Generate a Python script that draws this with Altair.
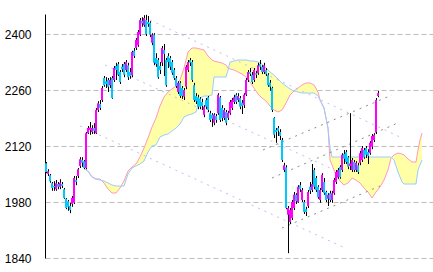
import altair as alt
import pandas as pd

# ---- candle data (one per session) ----
opens = [2077,2050,2047,2027,2020,2012,2025,2018,2025,2012,1988,1982,1970,1975,1978,2035,2045,2070,2085,2082,
         2065,2152,2160,2155,2165,2152,2210,2225,2235,2290,2282,2285,2272,2290,2285,2320,2325,2305,2318,2325,
         2310,2322,2305,2297,2358,2365,2372,2398,2433,2422,2435,2430,2428,2378,2398,2340,2335,2320,2328,2360,
         2335,2345,2340,2330,2310,2290,2255,2278,2265,2243,2268,2310,2335,2330,2272,2245,2242,2238,2230,2198,
         2235,2242,2202,2198,2178,2195,2202,2242,2215,2190,2205,2190,2202,2215,2230,2248,2235,2240,2228,2222,
         2248,2285,2305,2298,2285,2302,2302,2325,2318,2305,2310,2298,2278,2265,2190,2160,2165,2155,2135,2060,
         2067,1948,1930,1940,1965,1998,1980,2022,1985,1980,1962,1970,2018,2010,2060,2040,2018,1985,2010,2030,
         2005,1988,2002,1985,2002,2030,2042,2068,2060,2100,2105,2092,2070,2060,2080,2060,2072,2078,2085,2110,
         2115,2105,2102,2118,2135,2155,2245]
closes = [2055,2057,2032,2015,2017,2027,2018,2028,2020,1990,1965,1968,1960,1990,2040,2030,2062,2087,2078,2065,
          2152,2165,2166,2165,2158,2210,2227,2215,2265,2272,2275,2268,2285,2240,2315,2310,2298,2280,2312,2298,
          2330,2292,2295,2355,2345,2385,2405,2435,2426,2440,2400,2425,2398,2398,2328,2325,2292,2310,2365,2350,
          2272,2330,2318,2303,2290,2270,2278,2245,2245,2260,2318,2330,2328,2285,2235,2232,2218,2218,2220,2218,
          2218,2210,2185,2188,2198,2185,2248,2185,2190,2210,2178,2203,2230,2235,2242,2230,2245,2218,2220,2248,
          2285,2305,2300,2280,2310,2298,2322,2318,2305,2322,2300,2272,2268,2210,2148,2155,2158,2145,2085,2072,
          1965,1965,1960,1980,1998,1982,2018,2012,2010,1955,1955,2005,2008,2025,2018,2010,1992,2010,2048,2002,
          1985,1998,1985,2002,2035,2055,2060,2042,2098,2088,2080,2068,2076,2085,2060,2078,2055,2102,2115,2092,
          2098,2095,2128,2145,2148,2235,2252]
highs = [2080,2062,2050,2030,2032,2035,2030,2037,2030,2015,1990,1985,1978,1995,2045,2045,2065,2092,2092,2085,
         2155,2170,2180,2172,2177,2215,2232,2235,2270,2295,2292,2290,2292,2295,2320,2328,2330,2310,2325,2330,
         2335,2328,2315,2358,2365,2390,2410,2440,2442,2447,2448,2445,2432,2402,2402,2352,2340,2330,2370,2375,
         2340,2352,2345,2335,2315,2295,2282,2282,2270,2265,2322,2335,2340,2335,2278,2252,2248,2242,2238,2222,
         2240,2245,2208,2202,2202,2200,2252,2245,2222,2215,2210,2208,2235,2240,2248,2252,2252,2245,2235,2252,
         2290,2310,2315,2305,2315,2308,2328,2335,2322,2328,2315,2302,2285,2268,2192,2165,2170,2162,2140,2078,
         2072,1970,1965,1985,2005,2002,2022,2030,2015,1985,1968,2010,2030,2075,2065,2045,2022,2015,2052,2040,
         2008,2002,2008,2008,2040,2060,2065,2072,2102,2110,2110,2095,2202,2090,2085,2082,2078,2108,2120,2115,
         2120,2112,2132,2150,2152,2240,2258]
lows = [2052,2045,2028,2008,2008,2008,2012,2012,2015,1988,1962,1958,1952,1968,1975,2022,2040,2065,2068,2062,
        2062,2150,2148,2150,2150,2150,2205,2210,2230,2268,2265,2255,2265,2238,2280,2285,2295,2275,2305,2292,
        2305,2285,2288,2292,2340,2360,2368,2395,2418,2418,2395,2418,2392,2372,2322,2318,2288,2300,2320,2295,
        2268,2315,2310,2298,2285,2265,2250,2240,2238,2235,2262,2305,2320,2280,2230,2225,2212,2212,2210,2192,
        2212,2205,2180,2168,2172,2178,2198,2180,2182,2185,2172,2185,2198,2210,2225,2225,2230,2212,2200,2215,
        2245,2280,2295,2275,2280,2290,2298,2310,2300,2300,2295,2268,2258,2205,2140,2128,2145,2135,2080,2055,
        1962,1852,1925,1935,1960,1975,1978,2005,1980,1950,1945,1965,2000,2005,2012,2005,1988,1978,2005,1998,
        1980,1970,1980,1978,1998,2025,2038,2038,2055,2075,2075,2062,2060,2055,2055,2055,2050,2072,2080,2088,
        2090,2075,2098,2112,2130,2150,2242]

# ---- ichimoku cloud (leading spans, session index incl. future) ----
cloud_idx = [19.5,21,23,25,27,29,31,33,35,37,39,41,43,45,47,49,51,53,55,57,59,61,63,65,67,69,71,73,75,77,
             79,81,83,84,86,88,90,91,92,94,96,98,100,102,104,106,108,110,112,114,116,118,120,122,124,126,128,130,132,134,
             136,137,138,139,140,141,142,143,145,147,149,151,153,155,157,159,161,163,165,167,169,171,172.5,174,176,178,179,181,183,185,
             186,187,188]
span_a = [2062.5,2057.5,2042.5,2037.5,2037.5,2027.5,2012.5,2002.5,2002.5,2015,
          2032.5,2057.5,2067.5,2075,2092.5,2115,2140,2167.5,2190,2220,
          2242.5,2255,2262.5,2270,2285,2315,2355,2365,2365,2362.5,
          2360,2345,2335,2332.5,2330,2327.5,2322.5,2315,2312.5,2310,
          2305,2300,2292.5,2280,2265,2250,2240,2232.5,2220,2210,
          2205,2210,2227.5,2247.5,2257.5,2265,2272.5,2277.5,2277.5,2272.5,
          2255,2235,2225,2215,2190,2165,2085,2072.5,2047.5,2032.5,
          2022.5,2027.5,2040,2035,2027.5,2015,2005,1990,2005,2017.5,
          2035,2060,2090,2097.5,2102.5,2100,2097.5,2087.5,2080,2080,
          2110,2135,2152.5]
span_b = [2062.5,2057.5,2042.5,2037.5,2035,2032.5,2027.5,2022.5,2020,2020,
          2020,2050,2065,2070,2075,2082.5,2105,2120,2122.5,2142.5,
          2147.5,2150,2157.5,2165,2175,2192.5,2197.5,2200,2205,2240,
          2245,2245,2247.5,2292.5,2292.5,2292.5,2292.5,2310,2330,2332.5,
          2335,2335,2335,2332.5,2332.5,2330,2325,2315,2305,2297.5,
          2287.5,2277.5,2270,2262.5,2257.5,2255,2252.5,2252.5,2252.5,2252.5,
          2245,2235,2225,2215,2190,2165,2115,2092.5,2092.5,2092.5,
          2092.5,2092.5,2092.5,2092.5,2092.5,2092.5,2092.5,2092.5,2092.5,2092.5,
          2092.5,2092.5,2092.5,2085,2055,2030,2025,2025,2025,2025,
          2060,2072.5,2085]

# ---- trend channel lines (endpoints in session index / price) ----
trend_id = ["L1","L1","L2","L2","L3","L3","G1","G1","G2","G2","G3","G3"]
trend_kind = ["lav","lav","lav","lav","lav","lav","gray","gray","gray","gray","gray","gray"]
trend_idx = [52,177,29.5,142,17,149.5,108.5,173,113,177,118,167]
trend_price = [2435,2142.5,2322.5,2065,2170,1865,2110,2247.5,2040,2180,1915,2020]

y_ticks = [1840, 1980, 2120, 2260, 2400]

candles = pd.DataFrame({"idx": list(range(len(opens))), "open": opens, "close": closes,
                        "high": highs, "low": lows})
cloud = pd.DataFrame({"idx": cloud_idx, "a": span_a, "b": span_b})
trends = pd.DataFrame({"id": trend_id, "kind": trend_kind, "idx": trend_idx, "price": trend_price})

xs = alt.Scale(domain=[-0.5, 193.5], nice=False, zero=False)
ys = alt.Scale(domain=[1840, 2450], nice=False, zero=False)
yaxis = alt.Axis(values=y_ticks, format="d", grid=True, gridDash=[5, 3], gridColor="#bbbbbb", gridWidth=1,
                 domainColor="#000000", domainWidth=1, ticks=False, labelPadding=14,
                 labelFontSize=12, labelFont="Liberation Sans", labelColor="#000000", title=None)

area = alt.Chart(cloud).mark_area(color="#ffffa6", opacity=1).encode(
    x=alt.X("idx:Q", scale=xs, axis=None),
    y=alt.Y("a:Q", scale=ys, axis=yaxis),
    y2="b:Q")
line_a = alt.Chart(cloud).mark_line(color="#ff99bb", strokeWidth=1).encode(
    x=alt.X("idx:Q", scale=xs, axis=None), y=alt.Y("a:Q", scale=ys))
line_b = alt.Chart(cloud).mark_line(color="#99ccff", strokeWidth=1).encode(
    x=alt.X("idx:Q", scale=xs, axis=None), y=alt.Y("b:Q", scale=ys))

tl = alt.Chart(trends).mark_line(strokeWidth=1, strokeDash=[2, 5]).encode(
    x=alt.X("idx:Q", scale=xs, axis=None),
    y=alt.Y("price:Q", scale=ys),
    detail="id:N",
    color=alt.Color("kind:N", scale=alt.Scale(domain=["lav", "gray"], range=["#c4bcf0", "#8c8c8c"]), legend=None))

wick = alt.Chart(candles).mark_rule(color="#000000", strokeWidth=1, xOffset=0.5).encode(
    x=alt.X("idx:Q", scale=xs, axis=None), y=alt.Y("low:Q", scale=ys), y2="high:Q")
body = alt.Chart(candles).mark_rule(strokeWidth=2, strokeCap="butt").encode(
    x=alt.X("idx:Q", scale=xs, axis=None), y=alt.Y("open:Q", scale=ys), y2="close:Q",
    color=alt.condition("datum.close >= datum.open", alt.value("#ff00ff"), alt.value("#00c8ff")))

chart = alt.layer(area, line_a, line_b, tl, wick, body).properties(
    width=388, height=244,
    autosize=alt.AutoSizeParams(type="none"),
    padding={"left": 45, "top": 14, "right": 0, "bottom": 14},
    background="#ffffff",
).configure_view(strokeWidth=0)

chart.save("out.html", embed_options={"renderer": "svg", "actions": False})
